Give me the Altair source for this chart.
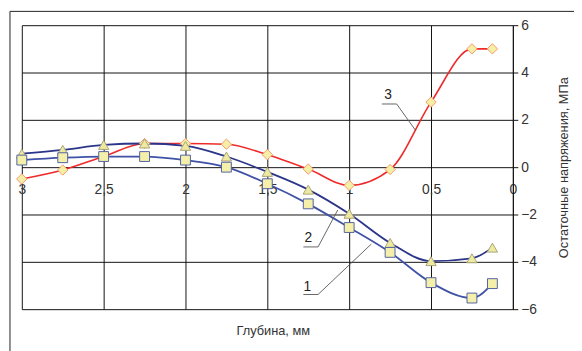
import altair as alt
import pandas as pd

# depth values (mm)
depth = [3.0, 2.75, 2.5, 2.25, 2.0, 1.75, 1.5, 1.25, 1.0, 0.75, 0.5, 0.25, 0.125]
# residual stress (MPa)
s1 = [0.3, 0.4, 0.45, 0.45, 0.3, 0.0, -0.7, -1.55, -2.55, -3.6, -4.88, -5.53, -4.92]
s2 = [0.57, 0.73, 0.94, 1.0, 0.9, 0.45, -0.2, -0.95, -1.97, -3.2, -3.97, -3.85, -3.4]
s3 = [-0.5, -0.12, 0.45, 1.0, 1.0, 0.97, 0.53, -0.08, -0.77, -0.1, 2.75, 5.0, 5.0]

x_ticks = [3, 2.5, 2, 1.5, 1, 0.5, 0]
y_ticks = [-6, -4, -2, 0, 2, 4, 6]

# annotation labels and leader lines (data units)
lab_text = ["3", "2", "1"]
lab_x = [0.763, 1.25, 1.256]
lab_y = [3.04, -3.0, -5.06]
lead_id = ["3", "3", "3", "2", "2", "2", "1", "1", "1"]
lead_ord = [0, 1, 2, 0, 1, 2, 0, 1, 2]
lead_x = [0.80, 0.71, 0.595, 1.28, 1.19, 1.07, 1.28, 1.19, 0.865]
lead_y = [2.67, 2.67, 1.56, -3.37, -3.37, -1.81, -5.38, -5.38, -3.25]

x_title = ["Глубина, мм"]

df1 = pd.DataFrame({"d": depth, "s": s1})
df2 = pd.DataFrame({"d": depth, "s": s2})
df3 = pd.DataFrame({"d": depth, "s": s3})
dlab = pd.DataFrame({"x": lab_x, "y": lab_y, "t": lab_text})
dlead = pd.DataFrame({"x": lead_x, "y": lead_y, "id": lead_id, "o": lead_ord})
dtitle = pd.DataFrame({"t": x_title})

xs = alt.Scale(domain=[3, 0], nice=False, zero=False)
ys = alt.Scale(domain=[-6, 6], nice=False)

xax = alt.Axis(values=x_ticks,
               labelExpr="replace(toString(datum.value), '.', ',')",
               grid=True, gridColor="#111", gridWidth=1, gridOpacity=1,
               domain=False, ticks=False, offset=-144, labelPadding=16,
               labelFont="Liberation Sans", labelFontSize=14, labelColor="#333",
               title=None, labelOverlap=False, labelFlush=False)
yax = alt.Axis(values=y_ticks, orient="right", grid=True, gridColor="#111",
               gridWidth=1, gridOpacity=1, domain=True, domainColor="#111",
               ticks=True, tickSize=5, tickColor="#111", labelPadding=3,
               labelFont="Liberation Sans", labelFontSize=14, labelColor="#333",
               title="Остаточные напряжения, МПа", titleAngle=270,
               titleFont="Liberation Sans", titleFontSize=13, titleFontWeight="normal",
               titleColor="#333", titlePadding=34, labelFlush=False)

def series(df, color, width, shape, fill, stroke, size):
    base = alt.Chart(df).encode(
        x=alt.X("d:Q", scale=xs, axis=xax),
        y=alt.Y("s:Q", scale=ys, axis=yax),
    )
    line = base.mark_line(color=color, strokeWidth=width, interpolate="monotone")
    pts = base.mark_point(shape=shape, filled=True, fill=fill, stroke=stroke,
                          strokeWidth=1, size=size, opacity=1)
    return line, pts

l3, p3 = series(df3, "#ee2a2a", 1.6, "diamond", "#f4eea6", "#f59a6a", 110)
l2, p2 = series(df2, "#2b3589", 1.8, "triangle-up", "#eee9a0", "#a9a57a", 110)
l1, p1 = series(df1, "#3f52a6", 1.8, "square", "#f4efaa", "#5263a2", 100)

leads = alt.Chart(dlead).mark_line(color="#555", strokeWidth=0.9).encode(
    x=alt.X("x:Q", scale=xs), y=alt.Y("y:Q", scale=ys),
    detail="id:N", order="o:Q")
labs = alt.Chart(dlab).mark_text(font="Liberation Sans", fontSize=14,
                                 color="#222").encode(
    x=alt.X("x:Q", scale=xs), y=alt.Y("y:Q", scale=ys), text="t:N")

xtitle = alt.Chart(dtitle).mark_text(font="Liberation Sans", fontSize=13,
                                     color="#333", baseline="middle").encode(
    x=alt.value(255), y=alt.value(310), text="t:N")

frame = alt.Chart(dtitle).mark_rect(fill=None, stroke="#222", strokeWidth=1).encode(
    x=alt.value(-12), x2=alt.value(600), y=alt.value(-14), y2=alt.value(400))

chart = alt.layer(frame, l3, l2, l1, leads, p3, p2, p1, labs, xtitle).properties(
    width=498, height=288,
    padding={"left": 14, "top": 15, "right": 62, "bottom": 40},
    autosize=alt.AutoSizeParams(type="none"),
    background="white",
).configure_view(stroke=None)

chart.save("out.html", embed_options={"renderer": "svg", "actions": False})
